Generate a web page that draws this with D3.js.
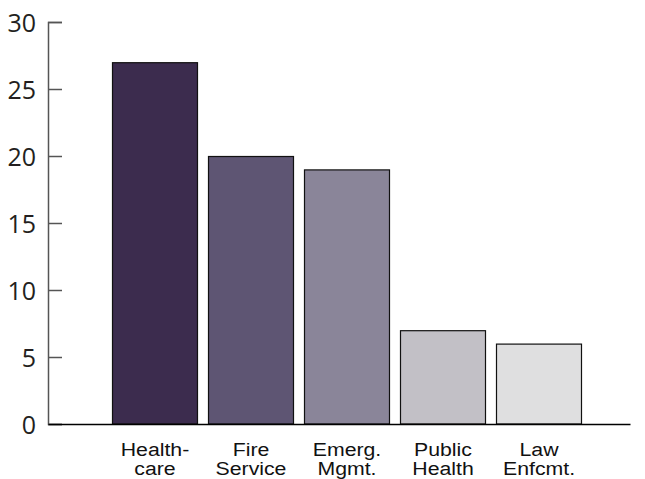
<!DOCTYPE html>
<html>
<head>
<meta charset="utf-8">
<script src="https://cdn.jsdelivr.net/npm/d3@7"></script>
<style>
  html, body { margin: 0; padding: 0; background: #fff; }
  svg { display: block; }
</style>
</head>
<body>
<svg id="chart" width="645" height="479"></svg>
<script>
const categories = [["Health-", "care"], ["Fire", "Service"], ["Emerg.", "Mgmt."], ["Public", "Health"], ["Law", "Enfcmt."]];
const values = [27, 20, 19, 7, 6];
const colors = ["#3c2c4e", "#5e5573", "#8a8599", "#c2c0c6", "#dfdfe0"];
const yTicks = [0, 5, 10, 15, 20, 25, 30];

const svg = d3.select("#chart");
const keys = categories.map(c => c.join(" "));

const x = d3.scaleBand().domain(keys).range([107, 587])
  .paddingInner(10 / 96).paddingOuter(5 / 96);
const y = d3.scaleLinear().domain([0, 30]).range([424, 22]);

// bars
svg.append("g").selectAll("rect").data(values).join("rect")
  .attr("x", (d, i) => x(keys[i]) + 0.5)
  .attr("y", d => y(d) + 0.5)
  .attr("width", x.bandwidth() - 1)
  .attr("height", d => y(0) - y(d) - 0.5)
  .attr("fill", (d, i) => colors[i])
  .attr("stroke", "#111")
  .attr("stroke-width", 1.2);

// y axis
const yAxis = d3.axisRight(y).tickValues(yTicks).tickSize(14).tickFormat("");
const gy = svg.append("g").attr("transform", "translate(48,0)").call(yAxis);
gy.select(".domain").attr("stroke", "#555").attr("stroke-width", 1.5);
gy.selectAll(".tick line").attr("stroke", "#555").attr("stroke-width", 1.5);

svg.append("g").selectAll("text").data(yTicks).join("text")
  .attr("x", 36)
  .attr("y", d => y(d) + 10)
  .attr("text-anchor", "end")
  .attr("font-family", "'Open Sans', sans-serif")
  .attr("font-size", 25)
  .attr("fill", "#231f20")
  .text(d => d);

// x axis line
const xAxis = d3.axisBottom(d3.scaleLinear().domain([0, 1]).range([48, 630])).tickValues([]).tickSizeOuter(0);
const gx = svg.append("g").attr("transform", "translate(0,424)").call(xAxis);
gx.select(".domain").attr("stroke", "#000").attr("stroke-width", 1.5);

// category labels (slightly widened, as in the reference)
const lab = svg.append("g").selectAll("text").data(categories).join("text")
  .attr("text-anchor", "middle")
  .attr("font-family", "'Liberation Sans', Arial, sans-serif")
  .attr("font-size", 19)
  .attr("fill", "#111")
  .attr("transform", (d, i) => {
    const cx = x(keys[i]) + x.bandwidth() / 2;
    return `translate(${cx},0) scale(1.12,1)`;
  });
lab.each(function (d) {
  const t = d3.select(this);
  d.forEach((line, j) => {
    t.append("tspan").attr("x", 0).attr("y", 456 + j * 19).text(line);
  });
});
</script>
</body>
</html>
